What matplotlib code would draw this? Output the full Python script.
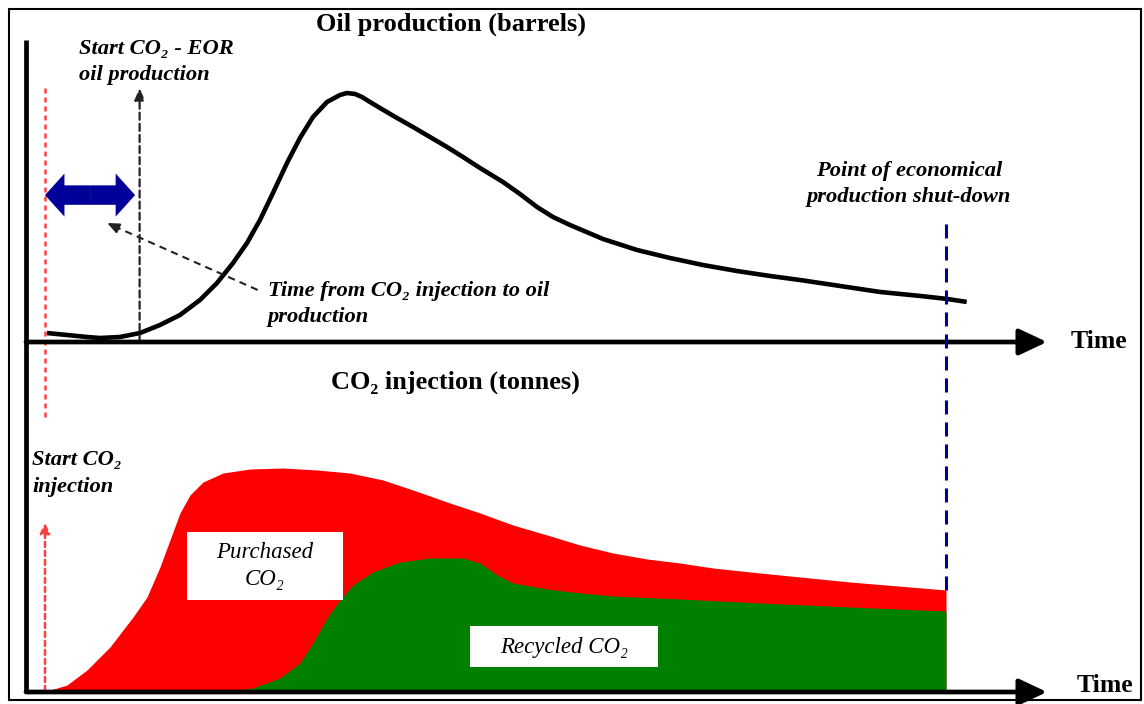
import matplotlib.pyplot as plt
from matplotlib.patches import Rectangle, FancyArrowPatch

plt.rcParams['font.family'] = ['Liberation Serif', 'DejaVu Serif']

# oil production curve (arbitrary time units, injection start = 0, shut-down = 100)
oil_t = [0.22, 2.44, 4.66, 6.10, 8.32, 10.54, 12.76, 14.98, 17.20, 19.09, 20.87, 22.42,
         23.86, 25.30, 26.86, 28.30, 29.74, 31.30, 32.74, 33.52, 34.41, 35.18, 36.07,
         37.18, 39.07, 40.84, 42.73, 44.62, 46.39, 48.28, 50.83, 52.72, 54.61, 56.38,
         58.27, 61.93, 65.71, 69.37, 73.03, 76.80, 80.47, 83.80, 88.24, 92.67, 97.11,
         100.1, 102.3]
oil_v = [3.61, 2.81, 2.01, 1.61, 2.01, 3.61, 6.83, 10.84, 16.87, 23.69, 31.73, 39.76,
         49.0, 59.84, 71.89, 81.93, 90.36, 96.39, 99.2, 100, 99.6, 98.4, 96.39,
         93.98, 89.96, 86.35, 82.33, 78.31, 74.3, 69.88, 64.26, 59.44, 54.22, 50.2,
         46.99, 41.37, 36.95, 33.73, 30.92, 28.51, 26.51, 24.9, 22.5, 20.1, 18.5,
         17.3, 16.1]

# CO2 injection: total (purchased + recycled) and recycled part
co2_t = [0, 0.22, 2.44, 4.66, 7.21, 9.77, 11.32, 12.76, 13.87, 14.98, 16.09, 17.54,
         19.76, 22.75, 26.42, 30.19, 33.85, 37.51, 40.84, 44.62, 48.28, 51.94, 55.72,
         59.38, 63.04, 66.82, 70.48, 74.14, 79.36, 89.35, 100]
co2_total = [0, 0.44, 3.11, 9.78, 20.0, 33.33, 42.22, 55.56, 67.56, 79.56, 87.56, 93.33,
             97.33, 99.11, 99.56, 98.67, 97.33, 94.22, 89.78, 84.44, 79.56, 74.22, 69.78,
             65.33, 61.78, 59.11, 57.33, 55.11, 52.89, 48.89, 45.33]
rec_t = [19.42, 23.09, 26.08, 28.30, 29.74, 31.30, 32.74, 34.18, 36.40, 39.40, 42.73,
         46.39, 48.28, 50.17, 51.94, 55.72, 59.38, 63.04, 70.48, 79.36, 89.35, 100]
rec_v = [0, 1.78, 6.22, 12.89, 21.78, 32.89, 40.89, 47.56, 53.33, 57.78, 59.56,
         59.56, 57.33, 52.0, 48.44, 45.78, 44.0, 42.67, 41.33, 39.56, 37.78, 36.0]

T_INJECT = 0
T_OIL_START = 10.5
T_SHUTDOWN = 100

W, H = 1144, 704


def fx(px):
    return px / W


def fy(py):
    return 1 - py / H


fig = plt.figure(figsize=(W / 100, H / 100), dpi=100)

# both panels share the time scale, each has its own value scale
ax_top = fig.add_axes([0, 0, 1, 1])
ax_bot = fig.add_axes([0, 0, 1, 1])
for ax in (ax_top, ax_bot):
    ax.set_xlim(-45 / 9.01, (W - 45) / 9.01)
    ax.axis('off')
    ax.patch.set_alpha(0)
ax_top.set_ylim((342 - H) / 2.49, 342 / 2.49)
ax_bot.set_ylim((692 - H) / 2.25, 692 / 2.25)

t_axis0 = (26 - 45) / 9.01
t_axis1 = (1047 - 45) / 9.01

# ---- bottom panel fills
ax_bot.fill_between(co2_t, co2_total, 0, color='#ff0000', lw=0)
ax_bot.fill_between(rec_t, rec_v, 0, color='#008000', lw=0)

# ---- oil curve
ax_top.plot(oil_t, oil_v, color='black', lw=3.3, solid_capstyle='butt',
            solid_joinstyle='round', zorder=3)

# ---- axes with arrows
ax_top.plot([t_axis0, t_axis0], [121.3, -140.6], color='black', lw=3.4,
            solid_capstyle='butt', zorder=5)
axis_arrow = dict(arrowstyle='-|>,head_length=1.7,head_width=0.8', lw=3.4,
                  color='black', shrinkA=0, shrinkB=0)
ax_top.annotate('', xy=(t_axis1, 0), xytext=(t_axis0, 0), arrowprops=axis_arrow, zorder=5)
ax_bot.annotate('', xy=(t_axis1, 0), xytext=(t_axis0, 0), arrowprops=axis_arrow, zorder=5)

# ---- start of injection (red dotted line + arrow)
ax_top.plot([T_INJECT, T_INJECT], [102, -31.3], color='#ff4040', lw=1.8,
            linestyle=(0, (2, 1.6)), zorder=4)
ax_bot.annotate('', xy=(T_INJECT, 75.1), xytext=(T_INJECT, 0.5),
                arrowprops=dict(arrowstyle='-|>,head_length=0.6,head_width=0.3', lw=1.8,
                                color='#ff4040', linestyle=(0, (2, 1.6)),
                                shrinkA=0, shrinkB=0), zorder=4)

# ---- start of EOR oil production (black dashed arrow)
ax_top.annotate('', xy=(T_OIL_START, 102), xytext=(T_OIL_START, 0),
                arrowprops=dict(arrowstyle='-|>,head_length=0.7,head_width=0.3', lw=1.6,
                                color='#222222', linestyle=(0, (3.2, 1.8)),
                                shrinkA=0, shrinkB=0), zorder=4)

# ---- delay double arrow
tip_right = T_OIL_START - 0.5
for tip in (T_INJECT, tip_right):
    ax_top.add_patch(FancyArrowPatch(
        ((T_INJECT + tip_right) / 2, 59), (tip, 59),
        arrowstyle='simple,head_length=14,head_width=31,tail_width=14',
        mutation_scale=1, color='#000099', lw=0, shrinkA=0, shrinkB=0, zorder=6))

# ---- diagonal dashed pointer
ax_top.plot([23.6, 7.6], [20.9, 46.6], color='#222222', lw=1.5,
            linestyle=(0, (3.5, 2.5)), zorder=4)
ax_top.annotate('', xy=(6.9, 47.8), xytext=(8.0, 45.9),
                arrowprops=dict(arrowstyle='-|>,head_length=0.7,head_width=0.3', lw=1.5,
                                color='#222222', shrinkA=0, shrinkB=0), zorder=4)

# ---- shut-down line
ax_bot.plot([T_SHUTDOWN, T_SHUTDOWN], [co2_total[-1], 208.9], color='#000099', lw=2.2,
            linestyle=(0, (4.6, 2.6)), zorder=4)

# ---- label boxes
fig.patches.append(Rectangle((fx(187), fy(600)), fx(343) - fx(187), fy(532) - fy(600),
                             transform=fig.transFigure, facecolor='white', lw=0, zorder=7))
fig.patches.append(Rectangle((fx(470), fy(667)), fx(658) - fx(470), fy(626) - fy(667),
                             transform=fig.transFigure, facecolor='white', lw=0, zorder=7))

# ---- frame
fig.patches.append(Rectangle((fx(9), fy(700)), fx(1141) - fx(9), fy(9) - fy(700),
                             transform=fig.transFigure, fill=False, edgecolor='black',
                             lw=1.5, zorder=10))

# ---- texts
title_kw = dict(fontsize=19, fontweight='bold', va='center', zorder=11)
time_kw = dict(fontsize=18.5, fontweight='bold', va='center', ha='left', zorder=11)
note_kw = dict(fontsize=16.2, fontweight='bold', style='italic', va='center', zorder=11)
box_kw = dict(fontsize=16.5, style='italic', ha='center', va='center', zorder=11)

fig.text(fx(451), fy(24), 'Oil production (barrels)', ha='center', **title_kw)
fig.text(fx(455), fy(382), 'CO\u2082 injection (tonnes)', ha='center', **title_kw)
fig.text(fx(1071), fy(341), 'Time', **time_kw)
fig.text(fx(1077), fy(686), 'Time', **time_kw)

fig.text(fx(79), fy(49), 'Start CO\u2082 - EOR', ha='left', **note_kw)
fig.text(fx(79), fy(75), 'oil production', ha='left', **note_kw)
fig.text(fx(909), fy(171), 'Point of economical', ha='center', **note_kw)
fig.text(fx(909), fy(197), 'production shut-down', ha='center', **note_kw)
fig.text(fx(268), fy(291), 'Time from CO\u2082 injection to oil', ha='left', **note_kw)
fig.text(fx(268), fy(317), 'production', ha='left', **note_kw)
fig.text(fx(32), fy(460), 'Start CO\u2082', ha='left', **note_kw)
fig.text(fx(32), fy(487), 'injection', ha='left', **note_kw)

fig.text(fx(265), fy(553), 'Purchased', **box_kw)
fig.text(fx(265), fy(580), 'CO\u2082', **box_kw)
fig.text(fx(564), fy(647), 'Recycled CO\u2082', **box_kw)

fig.savefig('out.png', dpi=100)
